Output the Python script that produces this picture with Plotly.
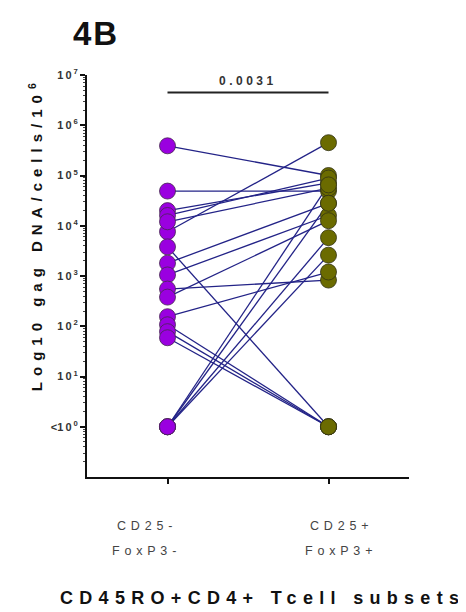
import plotly.graph_objects as go

# ---------------- data ----------------
categories = ["CD25-", "CD25+"]
category_line2 = ["FoxP3-", "FoxP3+"]
left_values = [3.9e5, 7.6e3, 4.9e4, 2.0e4, 1.6e4, 1.2e4, 3.8e3, 1.8e3, 1.05e3,
               550, 380, 155, 107, 78, 59, 1, 1, 1, 1]
right_values = [1.0e5, 4.5e5, 4.9e4, 7.1e4, 8.9e4, 5.6e4, 1, 2.8e4, 1.6e4,
                830, 1.26e4, 1.2e3, 1, 1, 1, 6.5e4, 2.8e4, 5.8e3, 2.6e3]
y_tick_vals = [1, 10, 100, 1e3, 1e4, 1e5, 1e6, 1e7]
y_tick_exps = ["0", "1", "2", "3", "4", "5", "6", "7"]
p_value = "0.0031"
p_bar_level = 10 ** 6.65

# ---------------- style ----------------
FONT = "Liberation Sans, Arial, sans-serif"
LINE_COLOR = "rgb(35,35,135)"
LEFT_COLOR = "#9a00e0"
RIGHT_COLOR = "#6b6b00"
PAGE_OFFSET = 8  # browser body margin

def spaced(text, px, size):
    return f"<span style='letter-spacing:{px}px;font-size:{size}px'>{text}</span>"

fig = go.Figure()

# connecting lines
xs, ys = [], []
for lv, rv in zip(left_values, right_values):
    xs += [0, 1, None]
    ys += [lv, rv, None]
fig.add_trace(go.Scatter(x=xs, y=ys, mode="lines",
                         line=dict(color=LINE_COLOR, width=1.3),
                         hoverinfo="skip", showlegend=False))

# markers
fig.add_trace(go.Scatter(x=[0] * len(left_values), y=left_values, mode="markers",
                         marker=dict(size=16, color=LEFT_COLOR,
                                     line=dict(color="rgba(70,40,80,0.8)", width=1)),
                         showlegend=False))
fig.add_trace(go.Scatter(x=[1] * len(right_values), y=right_values, mode="markers",
                         marker=dict(size=16, color=RIGHT_COLOR,
                                     line=dict(color="rgba(50,50,20,0.8)", width=1)),
                         showlegend=False))

# significance bar
fig.add_trace(go.Scatter(x=[0, 1], y=[p_bar_level, p_bar_level], mode="lines",
                         line=dict(color="#222", width=2), hoverinfo="skip",
                         showlegend=False))

# y tick labels
ticktext = []
for v, e in zip(y_tick_vals, y_tick_exps):
    base = "<b>" + spaced("10", 2, 11) + f"<sup>{e}</sup></b>"
    if v == 1:
        base = "<b><</b>" + base
    ticktext.append(base)

minor_vals = [m * 10 ** d for d in range(-1, 7) for m in range(2, 10)]

fig.update_layout(
    width=466 - PAGE_OFFSET, height=612 - PAGE_OFFSET,
    margin=dict(l=87 - PAGE_OFFSET, r=57, t=75 - PAGE_OFFSET, b=135),
    paper_bgcolor="white", plot_bgcolor="white",
    font=dict(family=FONT, color="#222"),
    xaxis=dict(range=[-0.5, 1.5], showgrid=False, zeroline=False,
               showline=True, linecolor="#111", linewidth=2,
               ticks="outside", tickvals=[0, 1], ticklen=5, tickwidth=1.5,
               tickcolor="#111", showticklabels=False),
    yaxis=dict(type="log", range=[-1, 7], showgrid=False, zeroline=False,
               showline=True, linecolor="#111", linewidth=2,
               ticks="outside", tickvals=y_tick_vals, ticktext=ticktext,
               ticklen=5, tickwidth=1.5, tickcolor="#111",
               tickfont=dict(size=11, color="#333", family=FONT),
               minor=dict(tickvals=minor_vals, ticks="outside", ticklen=2,
                          tickwidth=1, tickcolor="#444")),
)

annotations = []
# panel label
annotations.append(dict(text="<b>" + spaced("4B", 2, 33) + "</b>", xref="paper", yref="paper",
                        x=-0.05, y=1.102, xanchor="left", yanchor="middle",
                        showarrow=False, font=dict(size=33, color="#111", family=FONT)))
# p value
annotations.append(dict(text="<b>" + spaced(p_value, 3.5, 12) + "</b>", xref="x", yref="y",
                        x=0.5, y=6.88, xanchor="center", yanchor="middle",
                        showarrow=False, font=dict(size=12, color="#333", family=FONT)))
# y axis title
annotations.append(dict(text="<b>" + spaced("Log10 gag DNA/cells/10", 6, 15) + "<sup>6</sup></b>",
                        xref="paper", yref="paper", x=-0.161, y=0.597,
                        xanchor="center", yanchor="middle", textangle=-90,
                        showarrow=False, font=dict(size=15, color="#111", family=FONT)))
# category labels
cat_x = [0.186, 0.789]
for cx, l1, l2 in zip(cat_x, categories, category_line2):
    annotations.append(dict(text=spaced(l1, 4.8, 12.5), xref="paper", yref="paper",
                            x=cx, y=(477 - 526) / 402, xanchor="center", yanchor="middle",
                            showarrow=False, font=dict(size=12.5, color="#444", family=FONT)))
    annotations.append(dict(text=spaced(l2, 4.8, 12.5), xref="paper", yref="paper",
                            x=cx, y=(477 - 551) / 402, xanchor="center", yanchor="middle",
                            showarrow=False, font=dict(size=12.5, color="#444", family=FONT)))
# x axis title
annotations.append(dict(text="<b>" + spaced("CD45RO+CD4+ Tcell subsets", 6.3, 18) + "</b>",
                        xref="paper", yref="paper", x=0.545, y=(477 - 598) / 402,
                        xanchor="center", yanchor="middle", showarrow=False,
                        font=dict(size=18, color="#111", family=FONT)))
fig.update_layout(annotations=annotations)

fig.write_html("out.html")
